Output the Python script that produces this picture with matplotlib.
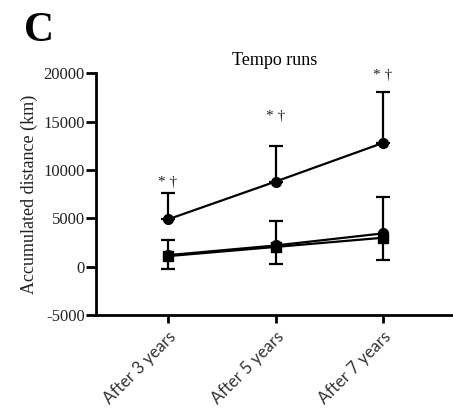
import matplotlib.pyplot as plt
import numpy as np

# data
labels = ["After 3 years", "After 5 years", "After 7 years"]
grp_a = [4900, 8800, 12800]          # top line (circles)
grp_a_up = [2700, 3700, 5300]        # +SD only
grp_b = [1100, 2050, 3000]           # lower line (squares)
grp_b_lo = [1300, 1750, 2300]
grp_b_up = [1700, 2650, 4200]
grp_c = [1200, 2200, 3450]           # lower line (circles)
sig = ["* \u2020", "* \u2020", "* \u2020"]
sig_y = [8700, 15500, 19800]

x = np.arange(len(labels))

plt.rcParams['font.family'] = ['Liberation Serif', 'DejaVu Serif']
plt.rcParams['axes.unicode_minus'] = False

fig = plt.figure(figsize=(4.53, 4.18), dpi=100)
ax = fig.add_axes([0.212, 0.246, 0.788, 0.579])

ax.errorbar(x, grp_a, yerr=[np.zeros(3), grp_a_up], color="black", lw=1.6,
            marker="o", ms=7, capsize=5, elinewidth=1.6, capthick=1.6)
ax.errorbar(x, grp_b, yerr=[grp_b_lo, grp_b_up], color="black", lw=1.6,
            marker="s", ms=7, capsize=5, elinewidth=1.6, capthick=1.6)
ax.plot(x, grp_c, color="black", lw=1.6, marker="o", ms=7)

for xi, s, yy in zip(x, sig, sig_y):
    ax.text(xi, yy, s, ha="center", va="center", fontsize=11, color="#222222")

ax.set_xlim(-0.67, 2.65)
ax.set_ylim(-5000, 20000)
ax.set_yticks([-5000, 0, 5000, 10000, 15000, 20000])
ax.set_xticks(x)
ax.set_xticklabels(labels, rotation=45, ha="right", rotation_mode="anchor",
                   family="Lato", fontsize=12, color="#333333")
ax.tick_params(axis="y", labelsize=12, width=2, length=7, pad=1,
               labelcolor="#222222")
ax.tick_params(axis="x", width=2, length=6)

ax.spines["top"].set_visible(False)
ax.spines["right"].set_visible(False)
ax.spines["left"].set_linewidth(2)
ax.spines["bottom"].set_linewidth(2)

ax.set_ylabel("Accumulated distance (km)", fontsize=13, labelpad=4, color="#222222")
ax.set_title("Tempo runs", fontsize=13, pad=6)
fig.text(0.053, 0.902, "C", fontsize=30, fontweight="bold")

fig.savefig("out.png", dpi=100)
